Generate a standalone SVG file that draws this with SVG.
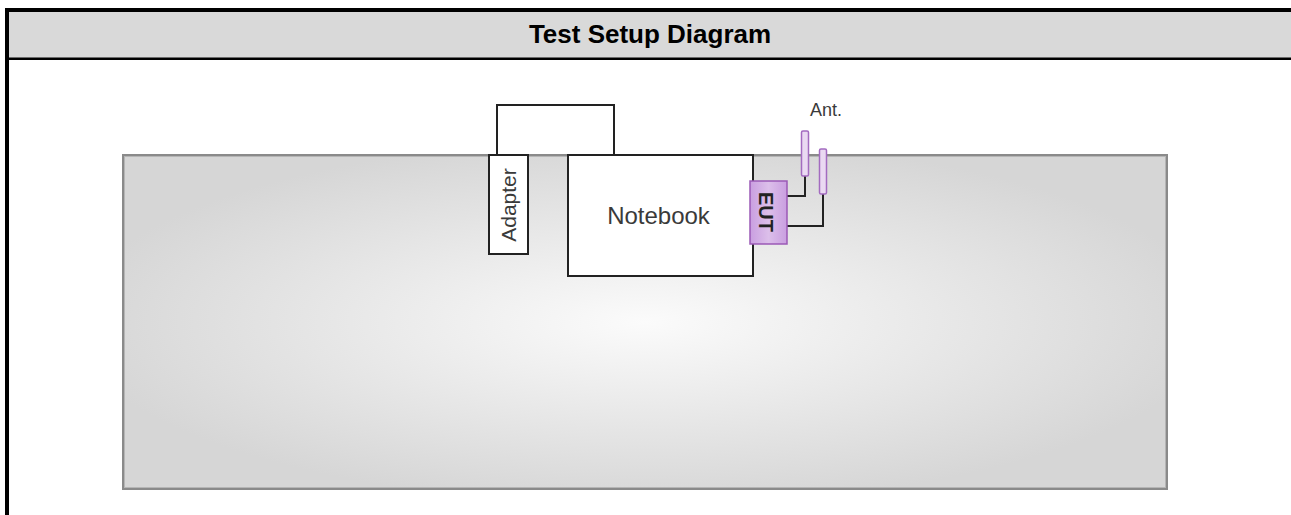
<svg xmlns="http://www.w3.org/2000/svg" width="1291" height="515" viewBox="0 0 1291 515">
<style>
.title{font-family:"Liberation Sans",Arial,sans-serif;font-size:26px;font-weight:bold;fill:#000}
.lbl{font-family:"Liberation Sans",Arial,sans-serif;fill:#3a3a3a}
.box{fill:#fff;stroke:#222;stroke-width:2}
.ant{fill:#ead9f2;stroke:#a36bc0;stroke-width:1.5}
.wire{fill:none;stroke:#222;stroke-width:2}
</style>
<defs>
<radialGradient id="bg" cx="0.5" cy="0.5" r="0.55">
<stop offset="0" stop-color="#fbfbfb"/>
<stop offset="1" stop-color="#d6d6d6"/>
</radialGradient>
<linearGradient id="eut" x1="0" y1="0" x2="1" y2="0">
<stop offset="0" stop-color="#c99ee0"/>
<stop offset="0.5" stop-color="#dcbfea"/>
<stop offset="1" stop-color="#c99ee0"/>
</linearGradient>
</defs>
<rect x="0" y="0" width="1291" height="515" fill="#fff"/>
<g id="frame">
<rect x="7" y="10" width="1290" height="49" fill="#d9d9d9"/>
<line x1="5" y1="10" x2="1291" y2="10" stroke="#000" stroke-width="4"/>
<line x1="7" y1="58.8" x2="1291" y2="58.8" stroke="#000" stroke-width="2.5"/>
<line x1="7" y1="8" x2="7" y2="515" stroke="#000" stroke-width="4"/>
<text class="title" x="650" y="43" text-anchor="middle">Test Setup Diagram</text>
</g>
<g id="table">
<rect x="123" y="155" width="1044" height="334" fill="url(#bg)" stroke="#8a8a8a" stroke-width="2"/>
<rect x="124.5" y="156.5" width="1041" height="331" fill="none" stroke="#b5b5b5" stroke-width="1"/>
</g>
<g id="connectors">
<polyline class="wire" points="497,155 497,105 614,105 614,155"/>
<polyline class="wire" points="787,196 805,196 805,176"/>
<polyline class="wire" points="787,226 823,226 823,194"/>
</g>
<g id="adapter">
<rect class="box" x="489" y="155" width="39" height="99"/>
<text class="lbl" font-size="21" transform="translate(515.5,205) rotate(-90)" text-anchor="middle">Adapter</text>
</g>
<g id="notebook">
<rect class="box" x="568" y="155" width="185" height="121"/>
<text class="lbl" font-size="24" x="658.5" y="224" text-anchor="middle">Notebook</text>
</g>
<g id="eut-node">
<rect x="750" y="181" width="37" height="63" fill="url(#eut)" stroke="#9b59b6" stroke-width="1.5"/>
<text font-family="'Liberation Sans',Arial,sans-serif" font-size="20" fill="#222" font-weight="bold" transform="translate(759,212) rotate(90)" text-anchor="middle">EUT</text>
</g>
<g id="antenna1">
<rect class="ant" x="801.5" y="131" width="7" height="45" rx="1.5"/>
</g>
<g id="antenna2">
<rect class="ant" x="819.5" y="149" width="7" height="45" rx="1.5"/>
</g>
<g id="ant-label">
<text class="lbl" font-size="18" x="810" y="116">Ant.</text>
</g>
</svg>
